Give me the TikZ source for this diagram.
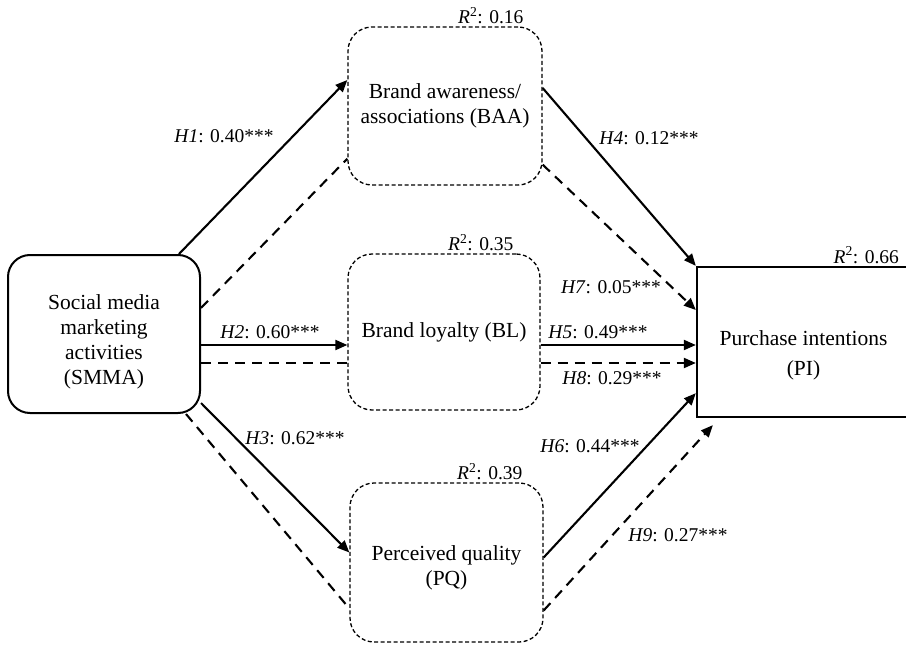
\documentclass[tikz,border=0pt]{standalone}
\usepackage{fontspec}
\setmainfont{Liberation Serif}
\usetikzlibrary{arrows.meta}

\tikzset{
  construct/.style={draw, line width=2pt, align=center, font=\fontsize{21.5}{25}\selectfont},
  latent/.style={construct, line width=1.3pt, dash pattern=on 4pt off 2.5pt, rounded corners=24pt, minimum width=194pt, minimum height=158pt},
  effect/.style={line width=2.1pt, ->},
  indirect/.style={line width=2.1pt, dash pattern=on 10pt off 7pt},
  coef/.style={font=\fontsize{19.5}{23}\selectfont, inner sep=1pt},
  rsq/.style={coef, anchor=south east, inner sep=2pt}
}

\begin{document}
\begin{tikzpicture}[x=1pt, y=-1pt, >={Triangle[length=12pt,width=10pt]}]
    \useasboundingbox (0,0) rectangle (906,645);
    % constructs
    \node[construct, rounded corners=22pt, minimum width=192pt, minimum height=158pt] (smma) at (104,334) {\rule{0pt}{31pt}Social media\\marketing\\activities\\(SMMA)};
    \node[latent] (baa) at (445,106) {Brand awareness/\\associations (BAA)};
    \node[latent, minimum width=192pt, minimum height=156pt] (bl) at (444,332) {Brand loyalty (BL)};
    \node[latent, minimum width=193pt, minimum height=159pt] (pq) at (446.5,562.5) {\rule{0pt}{25pt}Perceived quality\\(PQ)};
    \node[construct, line width=2.3pt, minimum width=213pt, minimum height=150pt] (pi) at (803.5,342) {\rule{0pt}{41pt}Purchase intentions\\[5pt](PI)};
    % explained variance
    \node[rsq] (baar) at ([xshift=-17pt]baa.north east) {\textit{R}\textsuperscript{2}: 0.16};
    \node[rsq] (blr) at ([xshift=-25pt]bl.north east) {\textit{R}\textsuperscript{2}: 0.35};
    \node[rsq] (pqr) at ([xshift=-19pt]pq.north east) {\textit{R}\textsuperscript{2}: 0.39};
    \node[rsq] (pir) at ([xshift=-10pt]pi.north east) {\textit{R}\textsuperscript{2}: 0.66};
    % direct paths
    \draw[effect] ([xshift=-22pt]smma.north east) -- ([yshift=26pt]baa.west);
    \draw[effect] ([yshift=18pt]baa.east) -- (pi.north west);
    \draw[effect] ([yshift=-11pt]smma.east) -- ([yshift=-11pt]smma.east -| bl.west);
    \draw[effect] ([yshift=-13pt]bl.east) -- ([yshift=-13pt]bl.east -| pi.west);
    \draw[effect] ([yshift=11pt]smma.south east) -- ([yshift=10pt]pq.west);
    \draw[effect] ([yshift=5pt]pq.east) -- ([yshift=25pt]pi.south west);
    % mediated paths
    \draw[indirect] ([yshift=26pt]smma.east) -- ([yshift=27pt]baa.south west);
    \draw[indirect, ->] ([yshift=21pt]baa.south east) -- ([yshift=32pt]pi.west);
    \draw[indirect] ([yshift=-29pt]smma.east) -- ([yshift=-29pt]smma.east -| bl.west);
    \draw[indirect, ->] ([yshift=-31pt]bl.east) -- ([yshift=-31pt]bl.east -| pi.west);
    \draw[indirect] ([xshift=-15pt]smma.south east) -- ([yshift=-46pt]pq.west);
    \draw[indirect, ->] ([yshift=-48pt]pq.east) -- ([xshift=17pt,yshift=-7pt]pi.south west);
    % coefficients
    \node[coef] (h1) at (224,136) {\textit{H1}: 0.40***};
    \node[coef] (h2) at (270,332) {\textit{H2}: 0.60***};
    \node[coef] (h3) at (295,438) {\textit{H3}: 0.62***};
    \node[coef] (h4) at (649,138) {\textit{H4}: 0.12***};
    \node[coef] (h5) at (598,332) {\textit{H5}: 0.49***};
    \node[coef] (h6) at (590,446) {\textit{H6}: 0.44***};
    \node[coef] (h7) at (611,287) {\textit{H7}: 0.05***};
    \node[coef] (h8) at (612,378) {\textit{H8}: 0.29***};
    \node[coef] (h9) at (678,535) {\textit{H9}: 0.27***};
\end{tikzpicture}
\end{document}
